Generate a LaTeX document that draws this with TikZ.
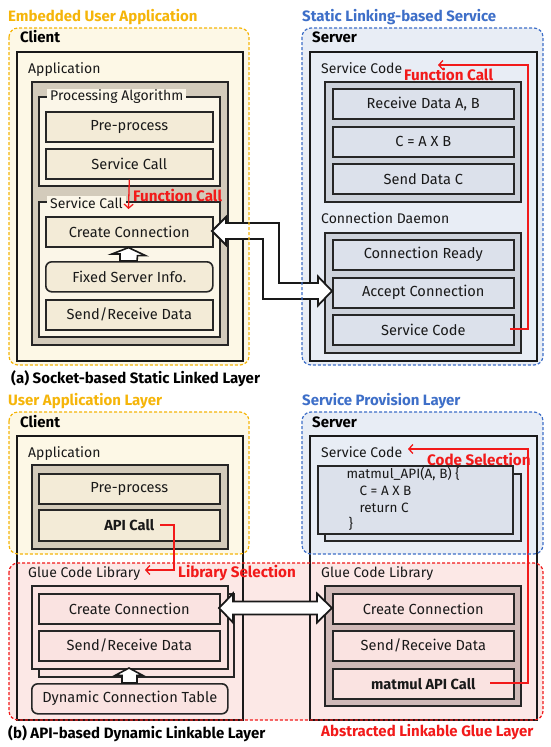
\documentclass[tikz,border=0pt]{standalone}
\usepackage{fontspec}
\setmainfont{Fira Sans}
\usetikzlibrary{arrows.meta}
\definecolor{ttlorange}{HTML}{F5B50A}
\definecolor{ttlblue}{HTML}{3E6FC8}
\definecolor{myred}{HTML}{F21A1A}
\definecolor{regcream}{HTML}{FDF8E6}
\definecolor{regblue}{HTML}{E8EDF5}
\definecolor{regpink}{HTML}{FCE8E6}
\definecolor{tangray}{HTML}{D3CBBB}
\definecolor{grpcream}{HTML}{FBF6E8}
\definecolor{itmcream}{HTML}{F3EBD7}
\definecolor{bluegray}{HTML}{CDD2DB}
\definecolor{itmblue}{HTML}{DCE1EB}
\definecolor{pinkgray}{HTML}{CFB9B7}
\definecolor{itmpink}{HTML}{FAE3E1}
\newcommand\mybox[7]{\node[#1, anchor=north west, minimum width=#5-#3, minimum height=#6-#4] (#2) at (#3,#4) {#7};}
\begin{document}
\begin{tikzpicture}[x=1pt,y=-1pt,
  every node/.style={font=\fontsize{14}{16}\selectfont, inner sep=0pt, text=black!90},
  reg/.style={dash pattern=on 3pt off 2pt, line width=1.2pt, rounded corners=9pt},
  blk/.style={draw=black!90, line width=2.2pt},
  grp/.style={draw=black!85, line width=1.8pt},
  itm/.style={draw=black!85, line width=1.6pt, font=\fontsize{14.6}{16}\selectfont},
  lbl/.style={anchor=base west},
  ttl/.style={anchor=base west, font=\fontsize{15}{17}\selectfont\bfseries},
  redl/.style={draw=myred, line width=1.3pt},
  redarr/.style={draw=myred, line width=1.3pt, -{Straight Barb[length=4pt,width=9pt]}},
  redlbl/.style={anchor=base west, text=myred, font=\fontsize{15.2}{17}\selectfont\bfseries},
  fat/.style={draw=black!90, line width=1.8pt, fill=white, line join=miter}
]
\useasboundingbox (0,0) rectangle (550,747);
% ---------- region fills
\fill[regcream, rounded corners=9pt] (9,28) rectangle (249,365);
\fill[regblue, rounded corners=9pt] (302,28) rectangle (543,365);
\fill[regcream, rounded corners=9pt] (9,412) rectangle (249,554);
\fill[regblue, rounded corners=9pt] (302,412) rectangle (543,554);
\fill[regpink, rounded corners=9pt] (9,563) rectangle (543,720);

% ---------- titles
\node[ttl, text=ttlorange] (t1) at (8,21) {Embedded User Application};
\node[ttl, text=ttlblue] (t2) at (302,21) {Static Linking-based Service};
\node[ttl, text=black] (capa) at (11,383) {(a) Socket-based Static Linked Layer};
\node[ttl, text=ttlorange] (t3) at (8,405) {User Application Layer};
\node[ttl, text=ttlblue] (t4) at (302,405) {Service Provision Layer};
\node[ttl, text=black] (capb) at (8,738) {(b) API-based Dynamic Linkable Layer};
\node[ttl, text=myred] (capr) at (321,736) {Abstracted Linkable Glue Layer};

% ================= (a) client
\node[ttl, text=black] (cl1) at (20,42) {Client};
\mybox{blk}{client1}{16}{51}{242}{360}{}
\node[lbl] (app1) at (28,73) {Application};
\mybox{grp, fill=tangray}{appbox1}{31}{81}{227}{344}{}
\mybox{grp, fill=grpcream}{pa}{38}{96}{219}{185}{}
\node[anchor=west, fill=grpcream, inner xsep=3pt, inner ysep=1pt] (pal) at (47,97) {Processing Algorithm};
\mybox{itm, fill=itmcream}{pre1}{45}{111}{212}{141}{Pre-process}
\mybox{itm, fill=itmcream}{scall}{45}{148}{212}{178}{Service Call}
\mybox{grp, fill=grpcream}{scg}{38}{201}{219}{336}{}
\node[anchor=west, fill=grpcream, inner xsep=3pt, inner ysep=1pt] (scl) at (47,203) {Service Call};
\mybox{itm, fill=itmcream}{cc1}{45}{216}{212}{246}{Create Connection}
\mybox{itm, fill=itmcream, rounded corners=6pt}{fsi}{45}{261}{212}{291}{Fixed Server Info.}
\mybox{itm, fill=itmcream}{srd1}{45}{299}{212}{329}{Send/Receive Data}
% hollow up arrow
\draw[fat, line width=1.6pt] (cc1.south -| 128.5,0) -- ++(17,8) -- ++(-8,0) -- (137,261) -- (120,261) -- (120,254) -- (112,254) -- cycle;
\node[redlbl] (fc1) at (133,201) {Function Call};
\coordinate (fcend) at (128.5,209);
\draw[redarr] (scall.south) -- (fcend);

% ================= (a) server
\node[ttl, text=black] (sv1) at (312,42) {Server};
\mybox{blk}{server1}{309}{51}{536}{360}{}
\node[lbl] (scode1) at (321,73) {Service Code};
\mybox{grp, fill=bluegray}{scbox}{324}{81}{520}{201}{}
\mybox{itm, fill=itmblue}{rd}{332}{88}{513}{118}{Receive Data A, B}
\mybox{itm, fill=itmblue}{cab}{332}{126}{513}{156}{C = A X B}
\mybox{itm, fill=itmblue}{sdc}{332}{163}{513}{193}{Send Data C}
\node[lbl] (cd) at (321,223) {Connection Daemon};
\mybox{grp, fill=bluegray}{cdbox}{324}{232}{520}{352}{}
\mybox{itm, fill=itmblue}{cr}{332}{239}{513}{269}{Connection Ready}
\mybox{itm, fill=itmblue}{ac}{332}{277}{513}{307}{Accept Connection}
\mybox{itm, fill=itmblue}{svc}{332}{314}{513}{344}{Service Code}
\node[redlbl] (fc2) at (404,80) {Function Call};
\coordinate (fc2a) at (510,329);
\coordinate (fc2b) at (438,65);
\draw[redarr] (fc2a) -- (528,329) -- (528,65) -- (fc2b);

% fat double arrow (a)
\draw[fat] (212,231) -- (226,217) -- (226,223) -- (279,223) -- (279,283) -- (318,283) -- (318,276.5) -- (332,291) -- (318,305.5) -- (318,299) -- (263,299) -- (263,239) -- (226,239) -- (226,245) -- cycle;

% ================= (b) client
\node[ttl, text=black] (cl2) at (20,427) {Client};
\mybox{blk}{client2}{16}{435}{242}{719}{}
\node[lbl] (app2) at (28,457) {Application};
\mybox{grp, fill=tangray}{appbox2}{31}{464}{227}{548}{}
\mybox{itm, fill=itmcream}{pre2}{38}{473}{219}{503}{Pre-process}
\mybox{itm, fill=itmcream, font=\fontsize{14.6}{16}\selectfont\bfseries}{api}{38}{509}{219}{540}{API Call}
\node[lbl] (gl1) at (28,577) {Glue Code Library};
\node[redlbl] (ls) at (178,577) {Library Selection};
\mybox{grp, fill=itmpink}{glback}{38}{593}{233}{676}{}
\mybox{grp, fill=itmpink}{glfront}{31}{585}{227}{668}{}
\mybox{itm, fill=itmpink}{cc2}{38}{593}{219}{623}{Create Connection}
\mybox{itm, fill=itmpink}{srd2}{38}{630}{219}{660}{Send/Receive Data}
\mybox{itm, fill=itmpink, rounded corners=6pt}{dct}{31}{683}{227}{713}{Dynamic Connection Table}
\draw[fat, line width=1.6pt] (129,668) -- (143,675.5) -- (137,675.5) -- (137,683) -- (122,683) -- (122,675.5) -- (115,675.5) -- cycle;
\coordinate (ls1) at (160,525);
\coordinate (ls2) at (145,570);
\draw[redarr] (ls1) -- (174,525) -- (174,570) -- (ls2);

% ================= (b) server
\node[ttl, text=black] (sv2) at (312,427) {Server};
\mybox{blk}{server2}{309}{435}{536}{719}{}
\node[lbl] (scode2) at (321,457) {Service Code};
\node[redlbl] (cs) at (427,465) {Code Selection};
\mybox{itm, fill=itmblue}{codeback}{324}{473}{520}{540}{}
\mybox{itm, fill=itmblue}{codefront}{317}{465}{512}{533}{}
\begin{scope}[every node/.style={anchor=base west, font=\fontsize{13.5}{15}\selectfont, text=black!90}]
\node (c1) at (343,478) {matmul\_API(A, B) \{};
\node (c2) at (356,495) {C = A X B};
\node (c3) at (356,512) {return C};
\node (c4) at (345,528) {\}};
\end{scope}
\node[lbl] (gl2) at (321,577) {Glue Code Library};
\mybox{grp, fill=pinkgray}{glbox2}{324}{585}{520}{705}{}
\mybox{itm, fill=itmpink}{cc3}{332}{593}{513}{623}{Create Connection}
\mybox{itm, fill=itmpink}{srd3}{332}{630}{513}{660}{Send/Receive Data}
\mybox{itm, fill=itmpink, font=\fontsize{14.6}{16}\selectfont\bfseries}{mac}{332}{668}{513}{698}{matmul API Call}
\coordinate (cs1) at (490,683);
\coordinate (cs2) at (408,449);
\draw[redarr] (cs1) -- (528,683) -- (528,449) -- (cs2);

% fat double arrow (b)
\draw[fat] (219,608) -- (233,593.5) -- (233,601.5) -- (317,601.5) -- (317,593.5) -- (332,608) -- (317,622.5) -- (317,614.5) -- (233,614.5) -- (233,622.5) -- cycle;

% ---------- region borders
\draw[reg, ttlorange] (9,28) rectangle (249,365);
\draw[reg, ttlblue] (302,28) rectangle (543,365);
\draw[reg, ttlorange] (9,412) rectangle (249,554);
\draw[reg, ttlblue] (302,412) rectangle (543,554);
\draw[reg, myred] (9,563) rectangle (543,720);
\end{tikzpicture}
\end{document}
